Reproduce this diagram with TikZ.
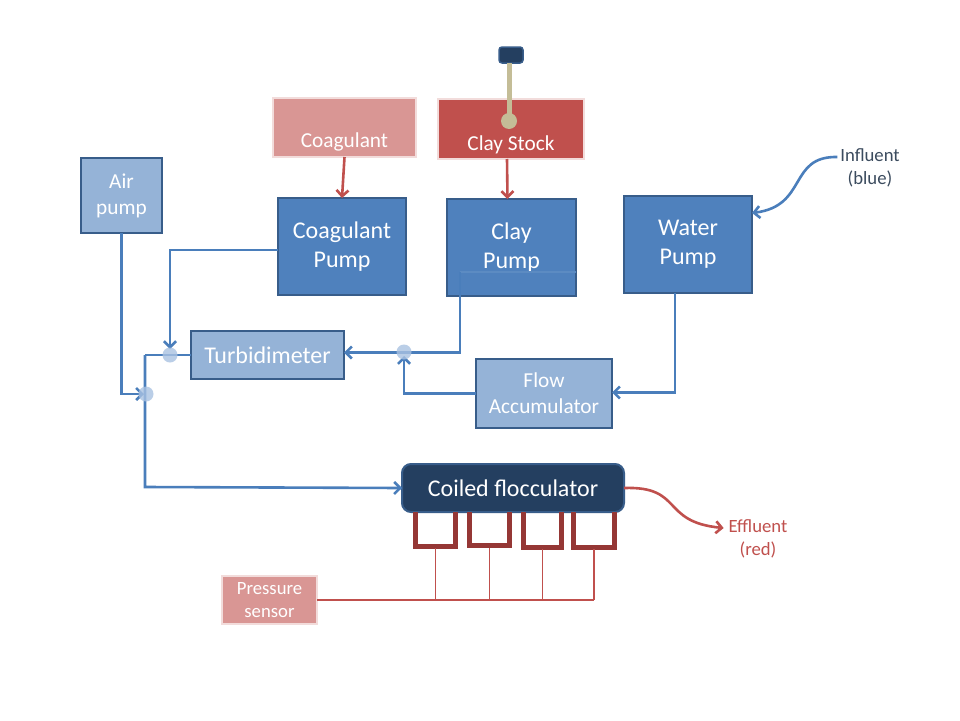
\documentclass[tikz,border=0pt]{standalone}
\usepackage{fontspec}
\setmainfont{Carlito}
\usetikzlibrary{arrows.meta,calc}
\definecolor{lblue}{HTML}{95B3D7}
\definecolor{mblue}{HTML}{4F81BD}
\definecolor{bord}{HTML}{385D8A}
\definecolor{lnblue}{HTML}{4A7EBB}
\definecolor{dotc}{HTML}{A9C2E2}
\definecolor{pinkf}{HTML}{D99694}
\definecolor{pinkb}{HTML}{F2DCDB}
\definecolor{redf}{HTML}{C0504D}
\definecolor{dred}{HTML}{953735}
\definecolor{navy}{HTML}{243F60}
\definecolor{rodc}{HTML}{C4BD97}
\definecolor{slate}{HTML}{3B4B5E}
\newcommand{\bigf}{\fontsize{24}{29}\selectfont}
\newcommand{\midf}{\fontsize{21.3}{26}\selectfont}
\newcommand{\smf}{\fontsize{18.7}{23}\selectfont}
\begin{document}
\begin{tikzpicture}[x=1pt,y=-1pt,
  every node/.style={inner sep=0pt,outer sep=0pt},
  box/.style={draw=bord,line width=2.5pt,text=white,align=center},
  darkbox/.style={box,fill=mblue,font=\bigf},
  lightbox/.style={box,fill=lblue},
  pinkbox/.style={draw=pinkb,line width=2.5pt,fill=pinkf,text=white,align=center},
  redbox/.style={draw=pinkb,line width=2.5pt,fill=redf},
  bl/.style={draw=lnblue,line width=2.6pt},
  rl/.style={draw=redf,line width=2.6pt},
  thinred/.style={draw=redf,line width=1.6pt},
  tip/.style={-{Straight Barb[length=6pt,width=12pt]}},
  dot/.style={circle,fill=dotc,opacity=0.8,minimum size=15pt},
  coil/.style={draw=dred,line width=5pt},
  lbl/.style={align=center,font=\smf}
]
\useasboundingbox (0,0) rectangle (960,720);
\fill[white] (0,0) rectangle (960,720);

% boxes
\node[lightbox,font=\midf,minimum width=81pt,minimum height=75pt] (air) at (121.5,195.5) {Air\\pump};
\node[pinkbox,minimum width=143pt,minimum height=59pt] (coag) at (344.5,127.5) {};
\node[text=white,font=\midf] (coagtxt) at (344.5,142) {Coagulant};
\node[redbox,minimum width=146pt,minimum height=60pt] (clay) at (511,129) {};
\node[text=white,font=\midf] (claytxt) at (511,145) {Clay Stock};
\node[darkbox,minimum width=128pt,minimum height=97pt] (cpump) at (342,246.5) {Coagulant\\Pump};
\node[darkbox,minimum width=129pt,minimum height=97pt] (clpump) at (511.5,247.5) {Clay\\Pump};
\node[darkbox,minimum width=128pt,minimum height=97pt] (wpump) at (688,244.5) {Water\\Pump};
\node[lightbox,font=\bigf,minimum width=153pt,minimum height=48pt] (turb) at (267.5,355) {Turbidimeter};
\node[lightbox,font=\midf,minimum width=136pt,minimum height=69pt] (flow) at (544,393.5) {Flow\\Accumulator};
\node[draw=bord,line width=2pt,fill=navy,rounded corners=9pt,text=white,font=\bigf,minimum width=222pt,minimum height=48pt] (floc) at (513,488) {Coiled flocculator};
\node[pinkbox,font=\smf,minimum width=95pt,minimum height=48pt] (press) at (269.5,600) {Pressure\\sensor};

% clay stock rod
\node[draw=bord,fill=navy,line width=1.5pt,rounded corners=3pt,minimum width=24pt,minimum height=16pt] (rodtop) at (511,55) {};
\node[circle,fill=rodc,minimum size=16pt] (rodball) at (509,121) {};
\draw[draw=rodc,line width=5pt] ([xshift=-2pt]rodtop.south) -- (rodball.center);

% labels
\node[lbl,text=slate] (inf) at (870,168) {Influent\\(blue)};
\node[lbl,text=redf] (eff) at (758,539) {Effluent\\(red)};

% junction coordinates
\coordinate (c1) at (145,355);
\coordinate (c2) at (145,487);
\coordinate (c3) at (460,272);
\coordinate (c4) at (576,272);

% red feed arrows
\draw[rl,tip] (coag.south) -- (cpump.north);
\draw[rl,tip] ([xshift=-4pt]clay.south) -- ([xshift=-4pt]clpump.north);

% blue connectors
\draw[bl,tip] ([yshift=-3.5pt]cpump.west) -| (170,349);
\draw[bl,tip] (air.south) |- (144,394);
\draw[bl] (turb.west) -- (c1);
\draw[bl,tip] (c1) -- (c2) -- (floc.west);
\draw[draw=lnblue!90!white,line width=2pt] (c4) -- (c3);
\draw[bl,tip] (c3) |- ([yshift=2.5pt]turb.east);
\draw[bl,tip] (flow.west) -| (404,356);
\draw[bl,tip] ([xshift=-13pt]wpump.south) |- ([yshift=1pt]flow.east);
\draw[bl,tip] ([xshift=-3pt,yshift=11pt]inf.west) .. controls (788,156) and (808,206) .. ([yshift=31.5pt]wpump.east);
\draw[rl,tip] (floc.east) .. controls (684,486) and (660,522) .. ([xshift=-5pt,yshift=11pt]eff.west);

% junction dots
\node[dot] (d1) at (170,355) {};
\node[dot] (d2) at (146,394) {};
\node[dot] (d3) at (404,352) {};

% coils
\coordinate (k1) at (435.5,548);
\coordinate (k2) at (489.5,548);
\coordinate (k3) at (542.5,549);
\coordinate (k4) at (594,549);
\draw[coil] (415.5,512) -- (415.5,546) -- (455.5,546) -- (455.5,512);
\draw[coil] (469.5,512) -- (469.5,545.5) -- (509.5,545.5) -- (509.5,512);
\draw[coil] (523.5,512) -- (523.5,547) -- (561.5,547) -- (561.5,512);
\draw[coil] (573.5,512) -- (573.5,547) -- (614.5,547) -- (614.5,512);

% pressure lines
\draw[thinred] (press.east) -- (k4|-press.east);
\foreach \k in {k1,k2,k3,k4}{\draw[thinred] (\k) -- (\k|-press.east);}
\end{tikzpicture}
\end{document}
